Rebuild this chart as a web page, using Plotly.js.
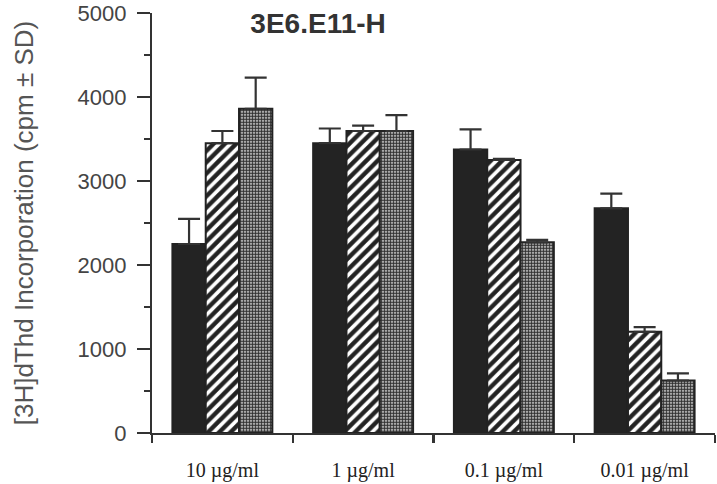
<!DOCTYPE html>
<html>
<head>
<meta charset="utf-8">
<script src="https://cdn.plot.ly/plotly-3.0.1.min.js"></script>
<style>html,body{margin:0;padding:0;background:#fff;}#chart{width:717px;height:484px;}</style>
</head>
<body>
<div id="chart"></div>
<script>
const categories = ['10 µg/ml', '1 µg/ml', '0.1 µg/ml', '0.01 µg/ml'];
const solidValues = [2250, 3450, 3375, 2675];
const solidErr = [300, 175, 240, 175];
const hatchValues = [3450, 3595, 3250, 1205];
const hatchErr = [145, 65, 15, 55];
const dotValues = [3860, 3595, 2270, 625];
const dotErr = [370, 190, 30, 85];
const yTicks = [0, 1000, 2000, 3000, 4000, 5000];

function errSpec(arr) {
  return {type: 'data', symmetric: false, array: arr, arrayminus: categories.map(() => 0),
          color: '#333', thickness: 2.2, width: 11};
}
const outline = {color: '#222', width: 2};

const traces = [
  {type: 'bar', x: categories, y: solidValues, error_y: errSpec(solidErr),
   marker: {color: '#232323', line: outline}},
  {type: 'bar', x: categories, y: hatchValues, error_y: errSpec(hatchErr),
   marker: {color: '#fff', line: outline,
            pattern: {shape: '/', fgcolor: '#232323', bgcolor: '#fff', size: 8, solidity: 0.55}}},
  {type: 'bar', x: categories, y: dotValues, error_y: errSpec(dotErr),
   marker: {color: '#fff', line: outline,
            pattern: {shape: '.', fgcolor: '#333', bgcolor: '#f4f4f4', size: 3, solidity: 0.7}}}
];

const layout = {
  width: 717, height: 484,
  margin: {l: 152, r: 2, t: 13, b: 51},
  paper_bgcolor: '#fff', plot_bgcolor: '#fff',
  showlegend: false,
  barmode: 'group', bargap: 0.29, bargroupgap: 0,
  title: {text: '<b>3E6.E11-H</b>', font: {family: 'Liberation Sans, Arial', size: 28, color: '#333'},
          xref: 'paper', x: 0.295, xanchor: 'center', yref: 'container', y: 0.953, yanchor: 'middle'},
  xaxis: {
    type: 'category', range: [-0.5, 3.5],
    showline: true, linecolor: '#333', linewidth: 2.2,
    ticks: 'outside', tickson: 'boundaries', ticklen: 8, tickwidth: 2.2, tickcolor: '#333',
    showgrid: false, zeroline: false,
    tickfont: {family: 'Liberation Serif, Times New Roman', size: 20, color: '#222'},
    ticklabelstandoff: 18
  },
  yaxis: {
    range: [0, 5000], tickvals: yTicks, ticktext: yTicks.map(String),
    showline: true, linecolor: '#333', linewidth: 2.2,
    ticks: 'outside', ticklen: 13, tickwidth: 2.2, tickcolor: '#333',
    minor: {dtick: 500, tick0: 0, ticks: 'outside', ticklen: 6, tickwidth: 2, tickcolor: '#333'},
    showgrid: false, zeroline: false,
    tickfont: {family: 'Liberation Sans, Arial', size: 22, color: '#444'},
    ticklabelstandoff: 6, ticklabeloverflow: 'allow',
    title: {text: '[3H]dThd Incorporation (cpm ± SD)', standoff: 36,
            font: {family: 'Liberation Sans, Arial', size: 26, color: '#555'}}
  }
};

Plotly.newPlot('chart', traces, layout, {displayModeBar: false, staticPlot: true});
</script>
</body>
</html>
